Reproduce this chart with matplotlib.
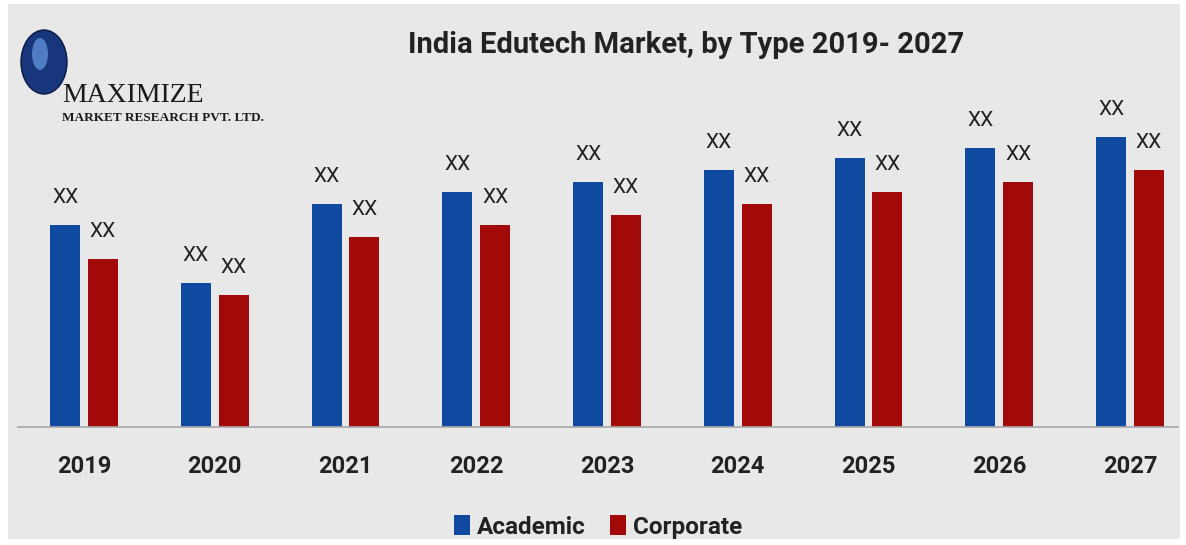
import matplotlib
matplotlib.use("Agg")
import matplotlib.pyplot as plt
import numpy as np
from matplotlib.patches import Rectangle, Ellipse

years = ["2019", "2020", "2021", "2022", "2023", "2024", "2025", "2026", "2027"]
academic = [202, 144, 223, 235, 245, 257, 269, 279, 290]
corporate = [168, 132, 190, 202, 212, 223, 235, 245, 257]
value_label = "XX"
series_names = ["Academic", "Corporate"]
title = "India Edutech Market, by Type 2019- 2027"

BLUE = "#0f4aa0"
RED = "#a20a0a"
BG = "#e8e8e8"
FONT = "Roboto"

W, H = 1186, 545
fig = plt.figure(figsize=(W / 100, H / 100), dpi=100, facecolor="white")

# light grey panel behind everything
fig.patches.append(Rectangle((8 / W, 6 / H), (W - 14) / W, (H - 10) / H,
                             transform=fig.transFigure, facecolor=BG,
                             edgecolor="none", zorder=-5))

ax_left, ax_right = 18, 1178
ax_bottom, ax_top = 427, 80
ax = fig.add_axes([ax_left / W, (H - ax_bottom) / H,
                   (ax_right - ax_left) / W, (ax_bottom - ax_top) / H])
ax.set_facecolor("none")
ax.set_zorder(2)

x = np.arange(len(years))
bw = 0.23
off = 0.145
b1 = ax.bar(x - off, academic, width=bw, color=BLUE, label=series_names[0], zorder=2)
b2 = ax.bar(x + off, corporate, width=bw, color=RED, label=series_names[1], zorder=2)

for bars in (b1, b2):
    for rect in bars:
        ax.annotate(value_label, (rect.get_x() + rect.get_width() / 2, rect.get_height()),
                    xytext=(0, 13), textcoords="offset points", ha="center", va="bottom",
                    fontsize=15, color="#222222", family=FONT)

ax.set_ylim(0, ax_bottom - ax_top)
px_per_unit = 130.75
ax.set_xlim(-(84 - ax_left) / px_per_unit, 8 + (ax_right - 1130) / px_per_unit)

for s in ("left", "right", "top"):
    ax.spines[s].set_visible(False)
ax.spines["bottom"].set_color("#a8a8a8")
ax.spines["bottom"].set_linewidth(1.2)
ax.set_yticks([])
ax.set_xticks(x)
ax.set_xticklabels(years, fontsize=17, fontweight="bold", color="#222222", family=FONT)
ax.tick_params(axis="x", length=0, pad=20)

fig.text(686 / W, 1 - 45 / H, title, ha="center", va="center", fontsize=21,
         fontweight="bold", color="#222222", family=FONT)

leg = fig.legend(handles=[b1, b2], labels=series_names, loc="center",
                 bbox_to_anchor=(598 / W, 1 - 527 / H), ncol=2, frameon=False,
                 handlelength=0.65, handleheight=0.85, handletextpad=0.3,
                 columnspacing=1.0, prop={"family": FONT, "size": 17.5, "weight": "bold"})
for t in leg.get_texts():
    t.set_color("#222222")

# company mark: globe and name
fig.patches.append(Ellipse((44 / W, 1 - 62 / H), 46 / W, 64 / H,
                           transform=fig.transFigure, facecolor="#17367c",
                           edgecolor="#0a1a40", linewidth=1, zorder=3))
fig.patches.append(Ellipse((40 / W, 1 - 54 / H), 16 / W, 32 / H, transform=fig.transFigure,
                           facecolor="#5f8fd6", edgecolor="none", alpha=0.8, zorder=4))
fig.text(62 / W, 1 - 96 / H, "MAXIMIZE", ha="left", va="center", fontsize=20,
         family="Liberation Serif", color="#1a1a1a")
fig.text(62 / W, 1 - 118 / H, "MARKET RESEARCH PVT. LTD.", ha="left", va="center",
         fontsize=9.5, fontweight="bold", family="Liberation Serif", color="#1a1a1a")

fig.savefig("out.png", dpi=100, facecolor="white")
